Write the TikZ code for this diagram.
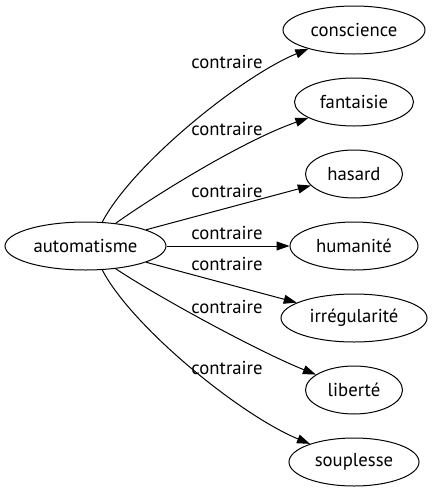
\documentclass[tikz,border=0pt]{standalone}
\usepackage{fontspec}
\setmainfont{PT Sans}
\usepackage{tikz}
\usetikzlibrary{arrows.meta,shapes.geometric}

\begin{document}
\begin{tikzpicture}[x=1pt,y=-1pt,
  word/.style={draw,ellipse,line width=1pt,minimum height=48pt,inner sep=0pt,font=\fontsize{18.7}{22}\selectfont},
  lbl/.style={font=\fontsize{18.7}{22}\selectfont,inner sep=0pt},
  arr/.style={-{Triangle[length=13pt,width=9pt]},line width=1pt}
]
\useasboundingbox (0,0) rectangle (433,491);
\node[word,minimum width=161pt] (auto) at (85.5,246) {automatisme};

\node[word,minimum width=142pt] (consc) at (354,30) {conscience};
\node[word,minimum width=119pt] (fant) at (354,102) {fantaisie};
\node[word,minimum width=97pt] (hasard) at (354,174) {hasard};
\node[word,minimum width=128pt] (human) at (354,246) {humanité};
\node[word,minimum width=146pt] (irreg) at (354,318) {irrégularité};
\node[word,minimum width=97pt] (liberte) at (354,390) {liberté};
\node[word,minimum width=130pt] (soupl) at (354,462) {souplesse};

% edges
\draw[arr] (auto.55) .. controls (132,165) and (240,77) .. (consc);
\draw[arr] (auto.37) .. controls (160,192) and (245,140) .. (fant);
\draw[arr] (auto) -- (hasard);
\draw[arr] (auto) -- (human);
\draw[arr] (auto) -- (irreg);
\draw[arr] (auto.-37) .. controls (155,295) and (255,350) .. (liberte);
\draw[arr] (auto.-55) .. controls (132,327) and (240,415) .. (soupl);

% labels
\node[lbl] (l1) at (227,62) {contraire};
\node[lbl] (l2) at (227,129) {contraire};
\node[lbl] (l3) at (227,191) {contraire};
\node[lbl] (l4) at (227,233) {contraire};
\node[lbl] (l5) at (227,264) {contraire};
\node[lbl] (l6) at (227,307) {contraire};
\node[lbl] (l7) at (227,368) {contraire};
\end{tikzpicture}
\end{document}
